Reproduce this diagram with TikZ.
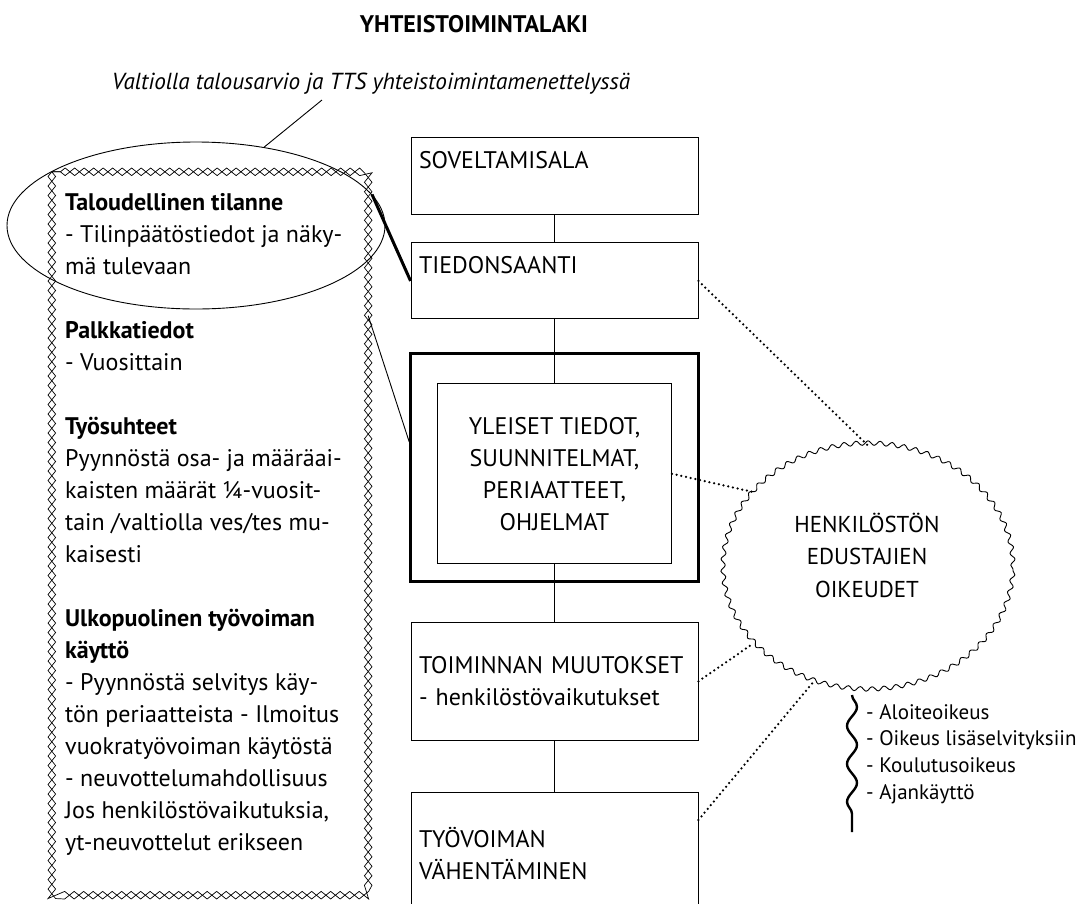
\documentclass[tikz,border=0pt]{standalone}
\usepackage{fontspec}
\setmainfont{PT Sans}
\usetikzlibrary{positioning,shapes.geometric,decorations.pathmorphing}

\newcommand\titlefont{\fontsize{24}{28}\selectfont\bfseries}
\newcommand\notefont{\fontsize{23.2}{28}\selectfont\itshape}
\newcommand\boxfont{\fontsize{24}{32}\selectfont}
\newcommand\cloudfont{\fontsize{23}{32.5}\selectfont}
\newcommand\listfont{\fontsize{21}{26.7}\selectfont}

\begin{document}
\begin{tikzpicture}[x=1pt,y=-1pt,
  box/.style={rectangle,draw,line width=0.9pt,text width=271pt,inner xsep=8pt,inner ysep=0pt,align=left,font=\boxfont},
  frame/.style={rectangle,draw,line width=2.5pt,minimum width=288pt,minimum height=228pt},
  link/.style={line width=0.9pt},
  dots/.style={line width=2.5pt,line cap=round,dash pattern=on 0pt off 4.8pt},
  chainup/.style={draw,line width=0.7pt,decorate,decoration={zigzag,segment length=19pt,amplitude=3.8pt}},
  chaindown/.style={draw,line width=0.7pt,decorate,decoration={zigzag,segment length=19pt,amplitude=3.8pt,mirror}},
  wave/.style={line width=2.4pt,decorate,decoration={snake,segment length=38pt,amplitude=5pt}}]

  \useasboundingbox (0,0) rectangle (1090,903);

  \node[font=\titlefont] (title) at (474,24) {YHTEISTOIMINTALAKI};
  \node[font=\notefont] (note) at (371,84) {Valtiolla talousarvio ja TTS yhteistoimintamenettelyssä};
  \coordinate (lead) at (322,100);

  \node[minimum width=316pt,minimum height=723pt,inner sep=0pt] (facts) at (210,533.5) {};
  \draw[chainup] (facts.north west) rectangle (facts.south east);
  \draw[chaindown] (facts.north west) rectangle (facts.south east);
  \node[ellipse,draw,link,minimum width=378pt,minimum height=167pt,inner sep=0pt] (fin) at (196,225.5) {};
  \node[anchor=north west,inner sep=0pt,align=left,font=\boxfont] (factstext) at (65,193)
    {\textbf{Taloudellinen tilanne}\\- Tilinpäätöstiedot ja näky-\\mä tulevaan\\[32pt]
     \textbf{Palkkatiedot}\\- Vuosittain\\[32pt]
     \textbf{Työsuhteet}\\Pyynnöstä osa- ja määräai-\\kaisten määrät ¼-vuosit-\\tain /valtiolla ves/tes mu-\\kaisesti\\[32pt]
     \textbf{Ulkopuolinen työvoiman}\\\textbf{käyttö}\\- Pyynnöstä selvitys käy-\\tön periaatteista - Ilmoitus\\vuokratyövoiman käytöstä\\- neuvottelumahdollisuus\\Jos henkilöstövaikutuksia,\\yt-neuvottelut erikseen};

  \node[box,minimum height=77pt] (solv) at (554.5,175.5) {SOVELTAMISALA\\\mbox{}};
  \node[box,minimum height=76pt,below=28pt of solv] (tied) {TIEDONSAANTI\\\mbox{}};
  \node[frame,below=33pt of tied] (outer) {};
  \node[rectangle,draw,link,minimum width=234pt,minimum height=180pt,align=center,font=\boxfont,below=31pt of outer.north] (inner)
    {YLEISET TIEDOT,\\SUUNNITELMAT,\\PERIAATTEET,\\OHJELMAT};
  \node[box,minimum height=118pt,below=39pt of outer] (toim) {TOIMINNAN MUUTOKSET\\- henkilöstövaikutukset};
  \node[box,minimum height=122pt,below=51pt of toim] (tyov) {TYÖVOIMAN\\VÄHENTÄMINEN};

  \node[ellipse,draw,line width=0.9pt,decorate,decoration={snake,segment length=12pt,amplitude=2.2pt},
    minimum width=290pt,minimum height=246pt,inner sep=0pt] (cloud) at (868,569) {};
  \node[align=center,font=\cloudfont] (cloudtext) at (867,555) {HENKILÖSTÖN\\EDUSTAJIEN\\OIKEUDET};

  \coordinate (wtop) at (852,695);
  \coordinate (wbot) at (852,832);
  \draw[wave] (wtop) -- (wbot);
  \node[anchor=north west,inner sep=0pt,align=left,font=\listfont] (rights) at (866,704)
    {- Aloiteoikeus\\- Oikeus lisäselvityksiin\\- Koulutusoikeus\\- Ajankäyttö};

  \path[link] (solv) edge (tied)
    (tied) edge (inner)
    (inner) edge (toim)
    (toim) edge (tyov);

  \path[dots] (tied.east) edge (cloud.north)
    (inner.east) edge (cloud.146)
    (toim.east) edge (cloud.213)
    (tyov.13) edge (cloud.244);

  \draw[line width=3pt] (fin.10) -- (tied.west);
  \draw[link] (facts.54.5) -- (outer.170);
  \draw[link] (lead) -- (fin.49);
\end{tikzpicture}
\end{document}
